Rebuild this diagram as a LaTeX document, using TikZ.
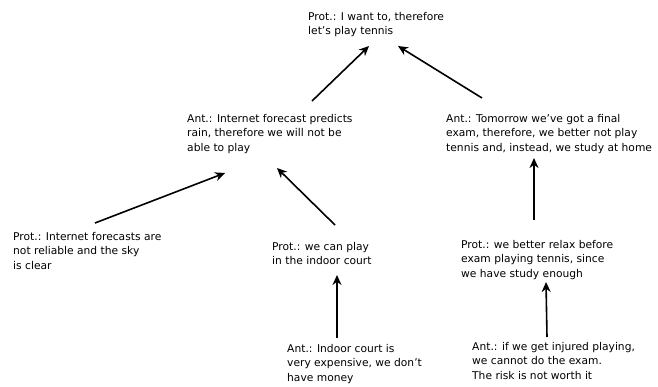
\documentclass[tikz,border=0pt]{standalone}
\usepackage{fontspec}
\setmainfont{DejaVu Sans}
\usepackage{tikz}
\usetikzlibrary{positioning, arrows.meta}

\begin{document}
\begin{tikzpicture}[
            x=1pt, y=1pt,
            arg/.style={anchor=north west, align=left, inner sep=0pt,
                font=\fontsize{10.7}{14.6}\selectfont},
            attack/.style={-{Stealth[length=10pt, width=9pt]}, line width=1.6pt},
        ]
            \useasboundingbox (0,0) rectangle (658,-386);

            % arguments
            \node[arg] (top) at (308,-12) {Prot.: I want to, therefore\\let's play tennis};
            \node[arg] (rain) at (187,-114) {Ant.: Internet forecast predicts\\rain, therefore we will not be\\able to play};
            \node[arg] (exam) at (446,-114) {Ant.: Tomorrow we've got a final\\exam, therefore, we better not play\\tennis and, instead, we study at home};
            \node[arg] (clear) at (13,-232) {Prot.: Internet forecasts are\\not reliable and the sky\\is clear};
            \node[arg] (indoor) at (272,-242) {Prot.: we can play\\in the indoor court};
            \node[arg] (relax) at (461,-240) {Prot.: we better relax before\\exam playing tennis, since\\we have study enough};
            \node[arg] (money) at (287,-344) {Ant.: Indoor court is\\very expensive, we don't\\have money};
            \node[arg] (injury) at (472,-342) {Ant.: if we get injured playing,\\we cannot do the exam.\\The risk is not worth it};

            % attacks
            \draw[attack] ([shift={(125,13)}]rain.north west) -- ([shift={(61,-34)}]top.north west);
            \draw[attack] ([shift={(36,16)}]exam.north west) -- ([shift={(90,-34)}]top.north west);
            \draw[attack] ([shift={(82,9)}]clear.north west) -- ([shift={(38,-59)}]rain.north west);
            \draw[attack] ([shift={(63,17)}]indoor.north west) -- ([shift={(90,-54)}]rain.north west);
            \draw[attack] ([shift={(73,20)}]relax.north west) -- ([shift={(88,-44)}]exam.north west);
            \draw[attack] ([shift={(50,6)}]money.north west) -- ([shift={(65,-33)}]indoor.north west);
            \draw[attack] ([shift={(75,5)}]injury.north west) -- ([shift={(85,-42)}]relax.north west);
        \end{tikzpicture}
\end{document}
